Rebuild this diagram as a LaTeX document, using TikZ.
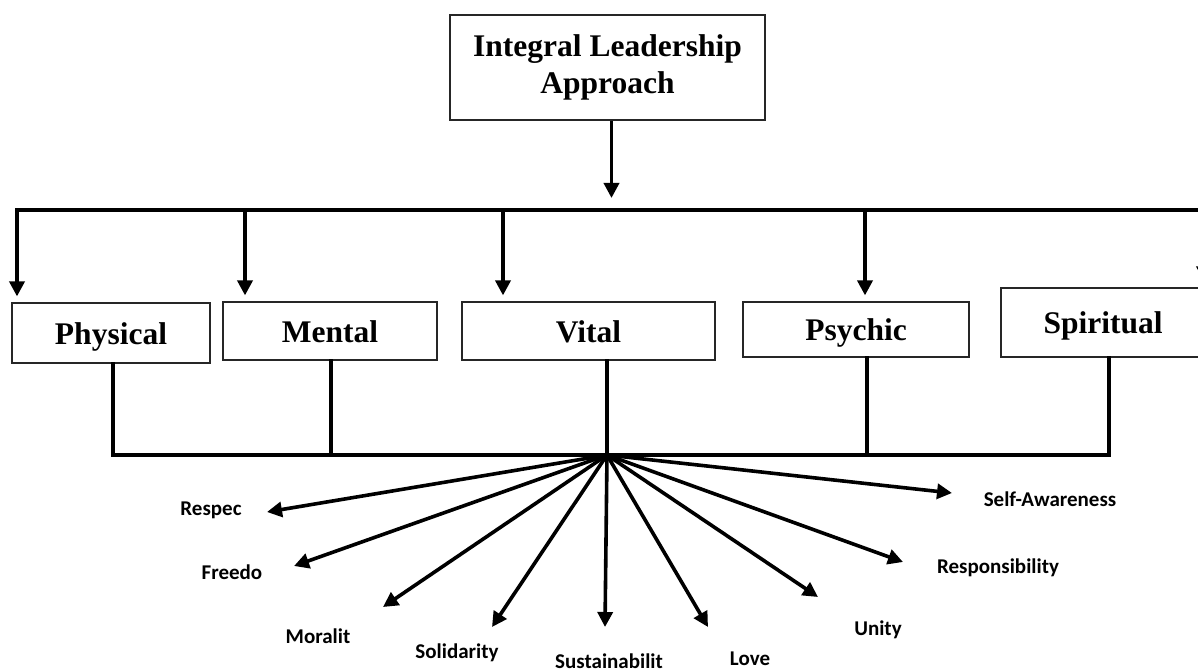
\documentclass[tikz,border=0pt]{standalone}
\usepackage{fontspec}
\setmainfont{Liberation Serif}
\newfontfamily\calfont{Carlito}
\usepackage{tikz}
\usetikzlibrary{arrows.meta}

\tikzset{
  lvl/.style={draw=black!85, line width=1.2pt, inner sep=0pt, text height=22pt, text depth=0pt, font=\fontsize{31.5}{37.8}\selectfont\bfseries},
  val/.style={inner sep=0pt, anchor=base, font=\calfont\fontsize{21}{24}\selectfont\bfseries},
  bar/.style={line width=3.6pt, line cap=rect},
  arr/.style={line width=3.6pt, -{Triangle[length=15pt,width=15pt]}}
}

\begin{document}
\begin{tikzpicture}[x=1pt,y=-1pt]
\useasboundingbox (0,0) rectangle (1198,671);

\node [lvl, minimum width=315pt, minimum height=105pt, align=center, text height=, text depth=] (ila) at (607.5,67.5) {Integral Leadership\\Approach};

\node [lvl, minimum width=198pt, minimum height=60pt] (phys) at (111,333) {Physical};
\node [lvl, minimum width=214pt, minimum height=58pt] (ment) at (330,331) {Mental};
\node [lvl, minimum width=253pt, minimum height=58pt] (vit) at (588.5,331) {Vital};
\node [lvl, minimum width=226pt, minimum height=55pt] (psy) at (856,329.5) {Psychic};
\node [lvl, minimum width=204pt, minimum height=69pt] (spir) at (1103,322.5) {Spiritual};

% upper bus
\coordinate (busL) at (17,210);
\coordinate (busR) at (1215,210);
\draw [arr, shorten >=12pt] ([xshift=4pt]ila.south) -- ([xshift=4pt]ila.south |- busL);
\draw [bar] (busL) -- (busR);
\foreach \b/\x in {phys/17, ment/245, vit/503, psy/865, spir/1204}
  \draw [arr, shorten >=6pt] (\x,210) -- (\x,210 |- \b.north);

% lower bus
\coordinate (hub) at (607,455);
\draw [bar] (113,455) -- (1109,455);
\foreach \b/\x in {phys/113, ment/331, vit/607, psy/867, spir/1109}
  \draw [bar] (\x,0 |- \b.south) -- (\x,455);

% values
\foreach \n/\t/\lx/\ly/\tx/\ty in {
  respec/Respec/211/515/267/512,
  freedo/Freedo/232/579/294/566,
  moralit/Moralit/318/643/383/607,
  solid/Solidarity/457/658/492/627,
  sustain/Sustainabilit/609/668/605/627,
  love/Love/750/665/708/627,
  unity/Unity/878/635/818/597,
  resp/Responsibility/998/573/903/562,
  selfaw/Self-Awareness/1050/506/952/493}
{
  \node [val] (\n) at (\lx,\ly) {\t};
  \coordinate (\n tip) at (\tx,\ty);
  \draw [arr] (hub) -- (\n tip);
}

\end{tikzpicture}
\end{document}
